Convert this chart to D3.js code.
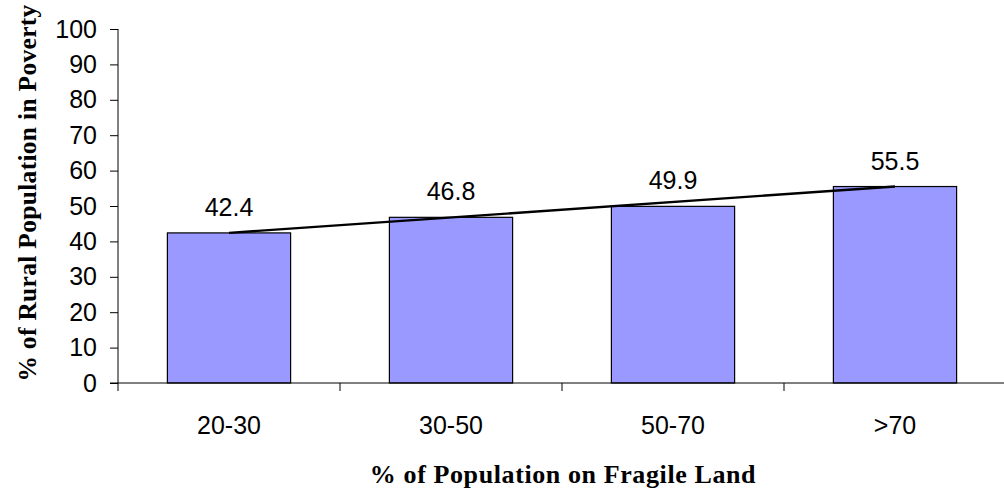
<!DOCTYPE html>
<html>
<head>
<meta charset="utf-8">
<script src="https://cdn.jsdelivr.net/npm/d3@7"></script>
<style>
  html, body { margin: 0; padding: 0; background: #fff; }
  svg { display: block; }
</style>
</head>
<body>
<svg id="chart" width="1004" height="489"></svg>
<script>
const categories = ["20-30", "30-50", "50-70", ">70"];
const values = [42.4, 46.8, 49.9, 55.5];
const yTicks = [0, 10, 20, 30, 40, 50, 60, 70, 80, 90, 100];
const xTitle = "% of Population on Fragile Land";
const yTitle = "% of Rural Population in Poverty";

(function () {
const svg = d3.select("#chart");
const mLeft = 118, mRight = 1006, mTop = 29, mBottom = 383;
const sans = "Liberation Sans, Arial, sans-serif";
const serif = "Liberation Serif, Times New Roman, serif";

const x = d3.scaleBand().domain(categories).range([mLeft, mRight]).paddingInner(0.445).paddingOuter(0.2225);
const y = d3.scaleLinear().domain([0, 100]).range([mBottom, mTop]);

// bars
svg.append("g").selectAll("rect").data(values).join("rect")
  .attr("x", (d, i) => x(categories[i]))
  .attr("y", d => y(d))
  .attr("width", x.bandwidth())
  .attr("height", d => y(0) - y(d))
  .attr("fill", "#9999ff")
  .attr("stroke", "#000")
  .attr("stroke-width", 1.2);

// trend line (first to last point)
const cx = i => x(categories[i]) + x.bandwidth() / 2;
const n = values.length;
svg.append("line")
  .attr("x1", cx(0)).attr("y1", y(values[0]))
  .attr("x2", cx(n - 1)).attr("y2", y(values[n - 1]))
  .attr("stroke", "#000").attr("stroke-width", 2.4);

// value labels
svg.append("g").selectAll("text").data(values).join("text")
  .attr("x", (d, i) => cx(i))
  .attr("y", d => y(d) - 17)
  .attr("text-anchor", "middle")
  .attr("font-family", sans)
  .attr("font-size", 25)
  .attr("fill", "#000")
  .text(d => d.toFixed(1));

// y axis
const yAxis = d3.axisLeft(y).tickValues(yTicks).tickSize(8).tickPadding(13).tickFormat(d3.format("d"));
const gy = svg.append("g").attr("transform", `translate(${mLeft},0)`).call(yAxis);
gy.select(".domain").attr("stroke", "#000").attr("d", `M0,${mTop}V${mBottom}`);
gy.selectAll(".tick line").attr("stroke", "#000");
gy.selectAll(".tick text").attr("font-family", sans).attr("font-size", 25).attr("fill", "#000");

// x axis
const gx = svg.append("g").attr("transform", `translate(0,${mBottom})`);
gx.append("line").attr("x1", mLeft - 8).attr("x2", mRight).attr("y1", 0).attr("y2", 0).attr("stroke", "#000").attr("stroke-width", 1);
const bounds = d3.range(n).map(i => x.step() * i + mLeft);
gx.selectAll("line.tk").data(bounds).join("line").attr("class", "tk")
  .attr("x1", d => d).attr("x2", d => d).attr("y1", 0).attr("y2", 8)
  .attr("stroke", "#000");
gx.selectAll("text").data(categories).join("text")
  .attr("x", (d, i) => cx(i))
  .attr("y", 51)
  .attr("text-anchor", "middle")
  .attr("font-family", sans)
  .attr("font-size", 25)
  .attr("fill", "#000")
  .text(d => d);

// titles
svg.append("text")
  .attr("x", 563).attr("y", 483)
  .attr("text-anchor", "middle")
  .attr("font-family", serif)
  .attr("font-weight", "bold")
  .attr("font-size", 26)
  .attr("letter-spacing", 0.6)
  .text(xTitle);

svg.append("text")
  .attr("transform", "translate(36,193) rotate(-90)")
  .attr("text-anchor", "middle")
  .attr("font-family", serif)
  .attr("font-weight", "bold")
  .attr("font-size", 25.5)
  .attr("letter-spacing", 0.3)
  .text(yTitle);
})();
</script>
</body>
</html>
